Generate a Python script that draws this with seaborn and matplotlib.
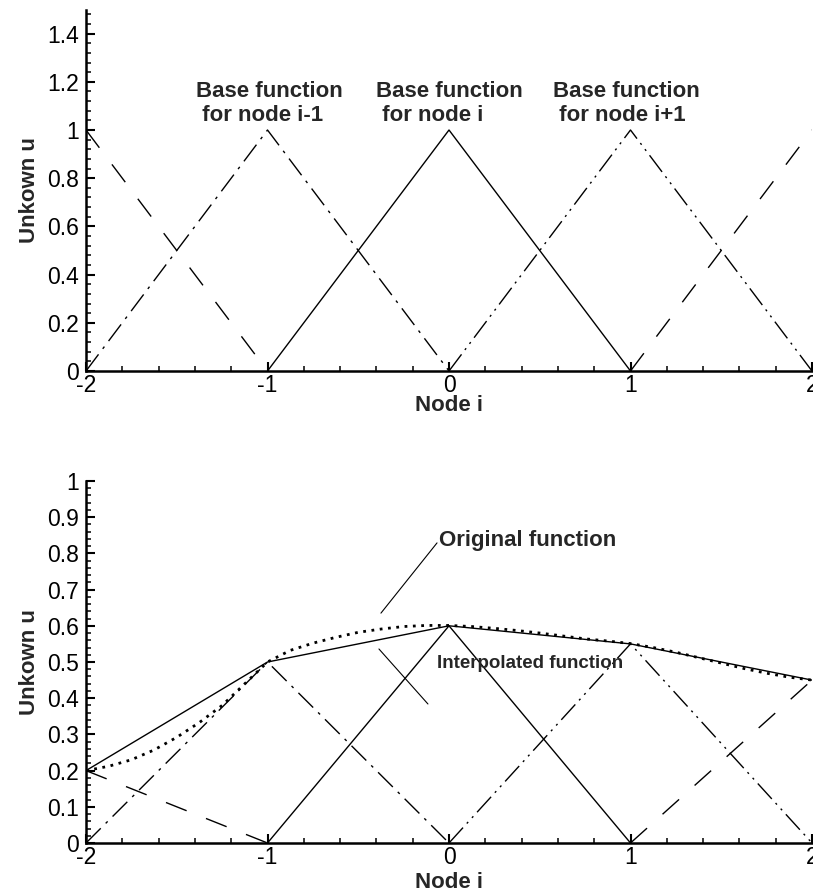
import matplotlib
matplotlib.use("Agg")
import matplotlib.pyplot as plt
import seaborn as sns
import numpy as np
import pandas as pd

# ---------------- data ----------------
x_ticks = [-2, -1, 0, 1, 2]
x_ticklabels = ["-2", "-1", "0", "1", "2"]
top_y_ticks = [0, 0.2, 0.4, 0.6, 0.8, 1.0, 1.2, 1.4]
top_y_ticklabels = ["0", "0.2", "0.4", "0.6", "0.8", "1", "1.2", "1.4"]
bot_y_ticks = [0, 0.1, 0.2, 0.3, 0.4, 0.5, 0.6, 0.7, 0.8, 0.9, 1.0]
bot_y_ticklabels = ["0", "0.1", "0.2", "0.3", "0.4", "0.5", "0.6", "0.7", "0.8", "0.9", "1"]

# top: unit base functions
top_b_im2_x = [-2, -1];      top_b_im2_u = [1, 0]
top_b_im1_x = [-2, -1, 0];   top_b_im1_u = [0, 1, 0]
top_b_i_x   = [-1, 0, 1];    top_b_i_u   = [0, 1, 0]
top_b_ip1_x = [0, 1, 2];     top_b_ip1_u = [0, 1, 0]
top_b_ip2_x = [1, 2];        top_b_ip2_u = [0, 1]

# bottom: nodal values and scaled base functions
node_x = [-2, -1, 0, 1, 2]
node_u = [0.2, 0.5, 0.6, 0.55, 0.45]
bot_b_im2_x = [-2, -1];      bot_b_im2_u = [0.2, 0]
bot_b_im1_x = [-2, -1, 0];   bot_b_im1_u = [0, 0.5, 0]
bot_b_i_x   = [-1, 0, 1];    bot_b_i_u   = [0, 0.6, 0]
bot_b_ip1_x = [0, 1, 2];     bot_b_ip1_u = [0, 0.55, 0]
bot_b_ip2_x = [1, 2];        bot_b_ip2_u = [0, 0.45]

orig_x = [-2.0, -1.875, -1.75, -1.625, -1.5, -1.375, -1.25, -1.125, -1.0,
          -0.875, -0.75, -0.625, -0.5, -0.375, -0.25, -0.125, 0.0,
          0.125, 0.25, 0.375, 0.5, 0.625, 0.75, 0.875, 1.0,
          1.125, 1.25, 1.375, 1.5, 1.625, 1.75, 1.875, 2.0]
orig_u = [0.200, 0.212, 0.230, 0.257, 0.292, 0.333, 0.380, 0.440, 0.500,
          0.532, 0.552, 0.568, 0.582, 0.591, 0.598, 0.601, 0.601,
          0.598, 0.593, 0.587, 0.580, 0.572, 0.564, 0.558, 0.551,
          0.540, 0.527, 0.512, 0.497, 0.482, 0.469, 0.458, 0.450]

# ---------------- style ----------------
sns.set_style("ticks")
plt.rcParams["font.family"] = ["Liberation Sans", "DejaVu Sans"]
plt.rcParams["axes.unicode_minus"] = False

LONG_DASH = (0, (16, 15))
DASH_DOT = (0, (15, 5, 2, 5))
DASH_DOT_DOT = (0, (15, 4, 1.5, 4, 1.5, 4))
DOTTED = (0, (1, 2.0))

fig = plt.figure(figsize=(8.13, 8.91), dpi=100)
ax1 = fig.add_axes([86 / 813, 1 - 371 / 891, (812 - 86) / 813, (371 - 9.5) / 891])
ax2 = fig.add_axes([86 / 813, 1 - 843 / 891, (812 - 86) / 813, (843 - 481) / 891])


def line(ax, x, y, ls, lw=1.0):
    sns.lineplot(x=x, y=y, ax=ax, color="black", linestyle=ls, linewidth=lw,
                 sort=False, estimator=None, legend=False)


# top panel
line(ax1, top_b_im2_x, top_b_im2_u, LONG_DASH)
line(ax1, top_b_im1_x, top_b_im1_u, DASH_DOT)
line(ax1, top_b_i_x, top_b_i_u, "-")
line(ax1, top_b_ip1_x, top_b_ip1_u, DASH_DOT_DOT)
line(ax1, top_b_ip2_x, top_b_ip2_u, LONG_DASH)

# bottom panel
line(ax2, bot_b_im2_x, bot_b_im2_u, LONG_DASH)
line(ax2, bot_b_im1_x, bot_b_im1_u, DASH_DOT)
line(ax2, bot_b_i_x, bot_b_i_u, "-")
line(ax2, bot_b_ip1_x, bot_b_ip1_u, DASH_DOT_DOT)
line(ax2, bot_b_ip2_x, bot_b_ip2_u, LONG_DASH)
line(ax2, node_x, node_u, "-")
line(ax2, orig_x, orig_u, DOTTED, lw=2.0)

for ax, yt, ytl, ylim, minor, xlp in [
    (ax1, top_y_ticks, top_y_ticklabels, (0, 1.5), 0.04, -1),
    (ax2, bot_y_ticks, bot_y_ticklabels, (0, 1.0), 0.02, 2),
]:
    ax.set_xlim(-2, 2)
    ax.set_ylim(*ylim)
    ax.set_xticks(x_ticks)
    ax.set_xticklabels(x_ticklabels)
    ax.set_yticks(yt)
    ax.set_yticklabels(ytl)
    ax.xaxis.set_minor_locator(matplotlib.ticker.MultipleLocator(0.2))
    ax.yaxis.set_minor_locator(matplotlib.ticker.MultipleLocator(minor))
    for s in ["top", "right"]:
        ax.spines[s].set_visible(False)
    for s in ["left", "bottom"]:
        ax.spines[s].set_linewidth(1.8)
        ax.spines[s].set_color("black")
    ax.tick_params(which="major", direction="in", length=6.5, width=1.5,
                   labelsize=16.5, colors="black")
    ax.tick_params(which="minor", direction="in", length=3.6, width=1.1,
                   colors="black")
    ax.tick_params(axis="x", which="major", pad=2)
    ax.tick_params(axis="y", which="major", pad=5)
    ax.set_xlabel("Node i", fontsize=16, fontweight="bold", labelpad=xlp)
    ax.set_ylabel("Unkown u", fontsize=16, fontweight="bold", labelpad=5)
    ax.set_facecolor("white")

# top annotations
ann_fs = 16
for xl, l1, l2 in [(-1.394, "Base function", " for node i-1"),
                   (-0.402, "Base function", " for node i"),
                   (0.573, "Base function", " for node i+1")]:
    ax1.text(xl, 1.137, l1, fontsize=ann_fs, fontweight="bold", ha="left", va="baseline")
    ax1.text(xl, 1.037, l2, fontsize=ann_fs, fontweight="bold", ha="left", va="baseline")

# bottom annotations
ax2.text(-0.055, 0.820, "Original function", fontsize=ann_fs, fontweight="bold",
         ha="left", va="baseline")
ax2.plot([-0.375, -0.066], [0.635, 0.829], color="black", lw=0.8)
ax2.text(-0.066, 0.483, "Interpolated function", fontsize=13.5, fontweight="bold",
         ha="left", va="baseline")
ax2.plot([-0.386, -0.116], [0.536, 0.384], color="black", lw=0.8)

fig.patch.set_facecolor("white")
fig.savefig("out.png", dpi=100, facecolor="white")
